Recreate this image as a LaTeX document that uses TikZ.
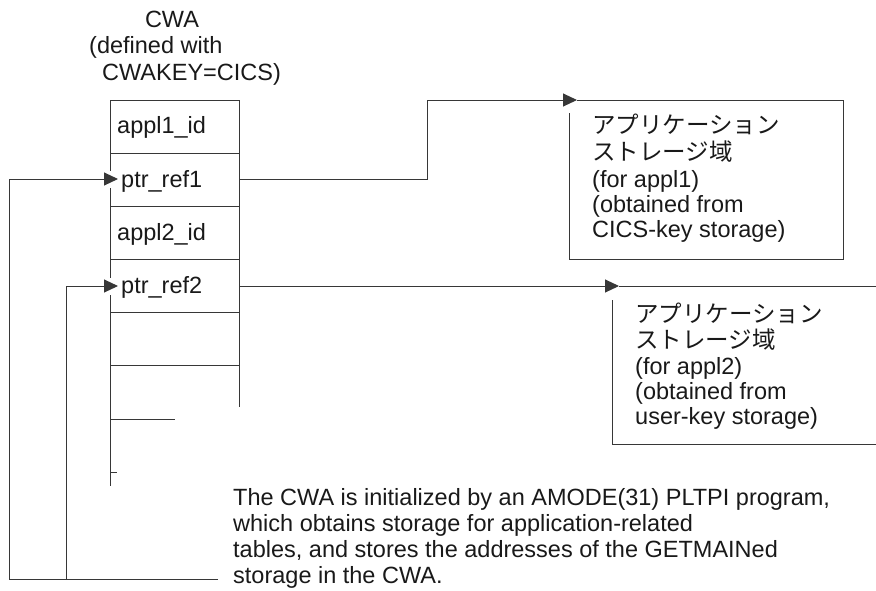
\documentclass[tikz,border=0pt]{standalone}
\usepackage{fontspec}
\setmainfont{Liberation Sans}
\newfontfamily\jp{Noto Sans CJK JP}
\usetikzlibrary{arrows.meta}
\definecolor{ln}{RGB}{55,55,55}
\definecolor{tx}{RGB}{25,25,25}
\tikzset{
  txt/.style={anchor=base west, inner sep=0pt, text=tx, font=\fontsize{23.5}{26}\selectfont},
  ctxt/.style={anchor=base, inner sep=0pt, text=tx, font=\fontsize{23.5}{26}\selectfont},
  wire/.style={draw=ln, line width=1pt},
  arr/.style={wire, -{Triangle[length=14pt, width=13pt]}},
}
\begin{document}
\begin{tikzpicture}[x=1pt, y=-1pt]
\useasboundingbox (0,0) rectangle (876,590);
% title
\node[ctxt] (t1) at (172,27) {CWA};
\node[txt] (t2) at (89,53) {(defined with};
\node[txt] (t3) at (102,80) {CWAKEY=CICS)};
% CWA table structure
\coordinate (tl) at (110,100);
\coordinate (tr) at (239,100);
\draw[wire] (tl) -- (tr) -- (239,406.7);
\draw[wire] (tl) -- (110,171);
\draw[wire] (110,188) -- (110,278);
\draw[wire] (110,295) -- (110,486);
\foreach \yy in {153,206,259,312,365} \draw[wire] (110,\yy) -- (239,\yy);
\draw[wire] (110,419) -- (175,419);
\draw[wire] (110,472.5) -- (117,472.5);
% row texts
\node[txt] (r1) at (117,133) {appl1\_id};
\node[txt] (r2) at (121,187) {ptr\_ref1};
\node[txt] (r3) at (117,240) {appl2\_id};
\node[txt] (r4) at (121,293) {ptr\_ref2};
\coordinate (p1in) at (118,179);
\coordinate (p2in) at (118,286);
\coordinate (p1out) at (239,179);
\coordinate (p2out) at (239,286);
% storage area 1
\coordinate (b1tip) at (577,100);
\draw[wire] (b1tip) -- (843,100) -- (843,259) -- (569,259) -- (569,113);
\node[txt] (a1) at (592,133) {\jp アプリケーション};
\node[txt] (a2) at (592,160) {\jp ストレージ域};
\node[txt] (a3) at (592,187) {(for appl1)};
\node[txt] (a4) at (592,212) {(obtained from};
\node[txt] (a5) at (592,237) {CICS-key storage)};
\draw[arr] (p1out) -- (427,179) -- (427,100) -- (b1tip);
% storage area 2
\coordinate (b2tip) at (619,286);
\draw[wire] (b2tip) -- (876,286);
\draw[wire] (612,300) -- (612,444) -- (876,444);
\node[txt] (c1) at (635,322) {\jp アプリケーション};
\node[txt] (c2) at (635,348) {\jp ストレージ域};
\node[txt] (c3) at (635,374) {(for appl2)};
\node[txt] (c4) at (635,399) {(obtained from};
\node[txt] (c5) at (635,424) {user-key storage)};
\draw[arr] (p2out) -- (b2tip);
% note
\node[txt] (n1) at (233,505) {The CWA is initialized by an AMODE(31) PLTPI program,};
\node[txt] (n2) at (233,531) {which obtains storage for application-related};
\node[txt] (n3) at (233,557) {tables, and stores the addresses of the GETMAINed};
\node[txt] (n4) at (233,583) {storage in the CWA.};
\coordinate (nstart) at (218,579);
\draw[arr] (nstart) -- (9,579) -- (9,179) -- (p1in);
\draw[arr] (66.7,579) -- (66.7,286) -- (p2in);
\end{tikzpicture}
\end{document}
